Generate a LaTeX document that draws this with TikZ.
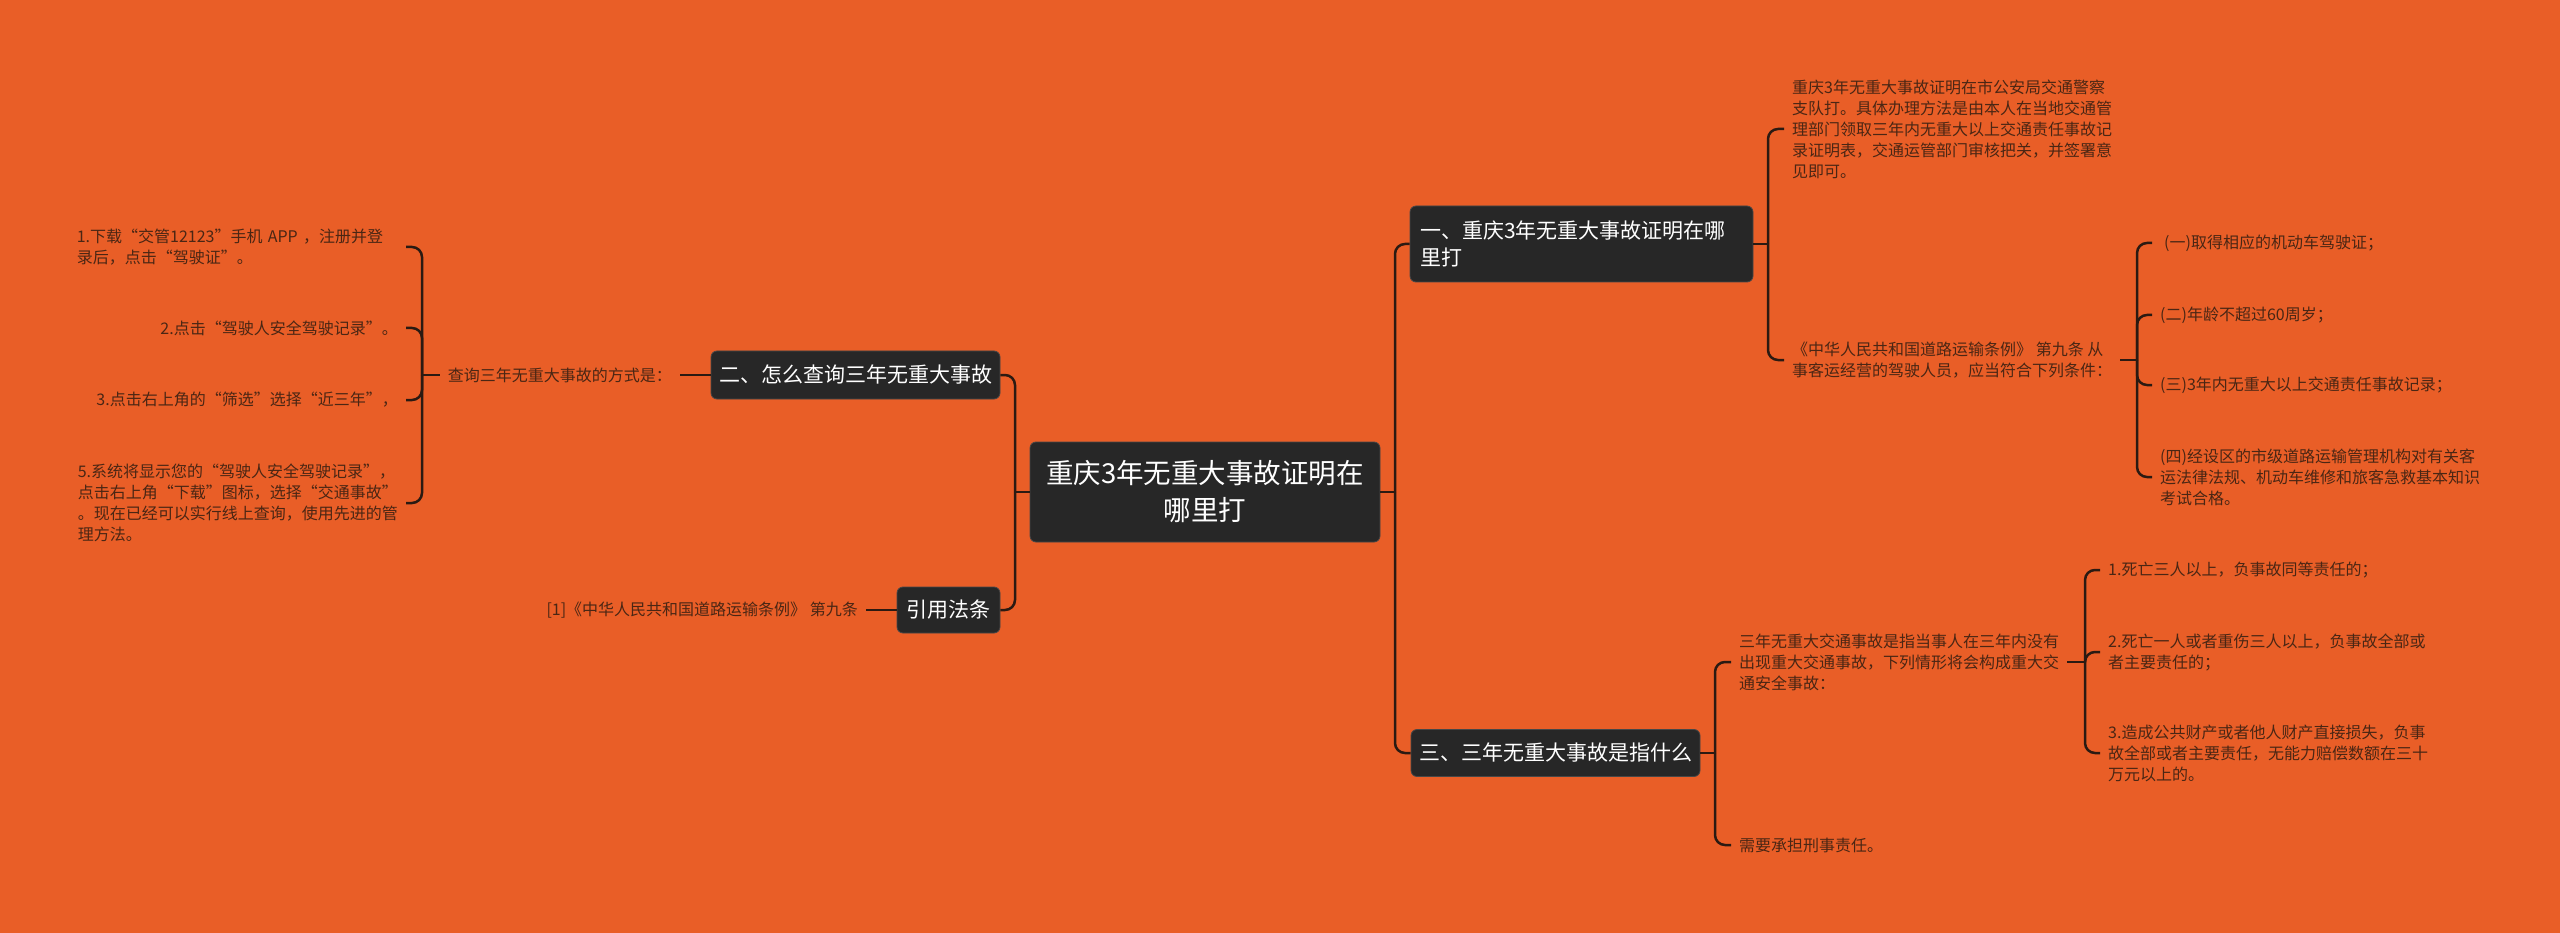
\documentclass[tikz,border=0pt]{standalone}
\usepackage{fontspec}
\setmainfont{Noto Sans CJK SC}
\definecolor{bg}{HTML}{E95E27}
\definecolor{lnc}{HTML}{2B1A12}
\definecolor{txc}{HTML}{4A2614}
\definecolor{boxc}{HTML}{272727}
\tikzset{
  topic/.style={fill=boxc, draw=boxc!85!white, line width=0.8pt, rounded corners=6pt, text=white,
    font=\fontsize{21}{27}\selectfont, inner sep=0pt, align=center},
  leaf/.style={text=txc, font=\fontsize{16}{21}\selectfont, inner xsep=8pt, inner ysep=2pt, align=left},
  conn/.style={draw=lnc, line width=2.5pt, rounded corners=10pt},
}
\begin{document}
\begin{tikzpicture}[x=1pt,y=-1pt]
\fill[bg] (0,0) rectangle (2560,933);
\useasboundingbox (0,0) rectangle (2560,933);

% topics
\node[topic, minimum width=350pt, minimum height=100pt, font=\fontsize{27.5}{37}\selectfont] (root) at (1205,492) {重庆3年无重大事故证明在\\哪里打};
\node[topic, minimum width=343pt, minimum height=76pt, text width=323pt, align=left] (n1) at (1581.5,244) {一、重庆3年无重大事故证明在哪\\里打};
\node[topic, minimum width=289pt, minimum height=48pt] (n2) at (855.5,375) {二、怎么查询三年无重大事故};
\node[topic, minimum width=289pt, minimum height=47pt] (n3) at (1555.5,753) {三、三年无重大事故是指什么};
\node[topic, minimum width=103pt, minimum height=46pt] (n4) at (948.5,610) {引用法条};

% right branch 1
\node[leaf, anchor=west] (A) at (1784,129) {重庆3年无重大事故证明在市公安局交通警察\\支队打。具体办理方法是由本人在当地交通管\\理部门领取三年内无重大以上交通责任事故记\\录证明表，交通运管部门审核把关，并签署意\\见即可。};
\node[leaf, anchor=west] (B) at (1784,360) {《中华人民共和国道路运输条例》 第九条 从\\事客运经营的驾驶人员，应当符合下列条件：};
\node[leaf, anchor=west] (i1) at (2152,243) {\hspace{4pt}(一)取得相应的机动车驾驶证；};
\node[leaf, anchor=west] (i2) at (2152,315) {(二)年龄不超过60周岁；};
\node[leaf, anchor=west] (i3) at (2152,385) {(三)3年内无重大以上交通责任事故记录；};
\node[leaf, anchor=west] (i4) at (2152,477) {(四)经设区的市级道路运输管理机构对有关客\\运法律法规、机动车维修和旅客急救基本知识\\考试合格。};

% right branch 3
\node[leaf, anchor=west] (C) at (1731,662) {三年无重大交通事故是指当事人在三年内没有\\出现重大交通事故，下列情形将会构成重大交\\通安全事故：};
\node[leaf, anchor=west] (D) at (1731,845) {需要承担刑事责任。};
\node[leaf, anchor=west] (k1) at (2100,570) {1.死亡三人以上，负事故同等责任的；};
\node[leaf, anchor=west] (k2) at (2100,652) {2.死亡一人或者重伤三人以上，负事故全部或\\者主要责任的；};
\node[leaf, anchor=west] (k3) at (2100,753) {3.造成公共财产或者他人财产直接损失，负事\\故全部或者主要责任，无能力赔偿数额在三十\\万元以上的。};

% left branch 2
\node[leaf, anchor=east] (q) at (680,375) {查询三年无重大事故的方式是：};
\node[leaf, anchor=east, text width=321pt] (L1) at (406,247) {1.下载“交管12123”手机 APP ，注册并登\\录后，点击“驾驶证”。};
\node[leaf, anchor=east] (L2) at (406,328) {2.点击“驾驶人安全驾驶记录”。};
\node[leaf, anchor=east] (L3) at (406,400) {3.点击右上角的“筛选”选择“近三年”，};
\node[leaf, anchor=east] (L5) at (406,503) {5.系统将显示您的“驾驶人安全驾驶记录”，\\点击右上角“下载”图标，选择“交通事故”\\。现在已经可以实行线上查询，使用先进的管\\理方法。};

% left branch 4
\node[leaf, anchor=east] (R) at (866,610) {[1]《中华人民共和国道路运输条例》 第九条};

% junctions
\coordinate (J0) at (1395,492);
\coordinate (J1) at (1768,244);
\coordinate (J2) at (2137,360);
\coordinate (J3) at (1715,753);
\coordinate (J4) at (2085,662);
\coordinate (J5) at (1015,492);
\coordinate (J6) at (422,375);

% connectors
\draw[conn] (root.east) -- (J0);
\draw[conn] (J0) |- (n1.west);
\draw[conn] (J0) |- (n3.west);
\draw[conn] (n1.east) -- (J1);
\draw[conn] (J1) |- (A.west);
\draw[conn] (J1) |- (B.west);
\draw[conn] (B.east) -- (J2);
\draw[conn] (J2) |- (i1.west);
\draw[conn] (J2) |- (i2.west);
\draw[conn] (J2) |- (i3.west);
\draw[conn] (J2) |- (i4.west);
\draw[conn] (n3.east) -- (J3);
\draw[conn] (J3) |- (C.west);
\draw[conn] (J3) |- (D.west);
\draw[conn] (C.east) -- (J4);
\draw[conn] (J4) |- (k1.west);
\draw[conn] (J4) |- (k2.west);
\draw[conn] (J4) |- (k3.west);
\draw[conn] (root.west) -- (J5);
\draw[conn] (J5) |- (n2.east);
\draw[conn] (J5) |- (n4.east);
\draw[conn] (n2.west) -- (q.east);
\draw[conn] (q.west) -- (J6);
\draw[conn] (J6) |- (L1.east);
\draw[conn] (J6) |- (L2.east);
\draw[conn] (J6) |- (L3.east);
\draw[conn] (J6) |- (L5.east);
\draw[conn] (n4.west) -- (R.east);
\end{tikzpicture}
\end{document}
